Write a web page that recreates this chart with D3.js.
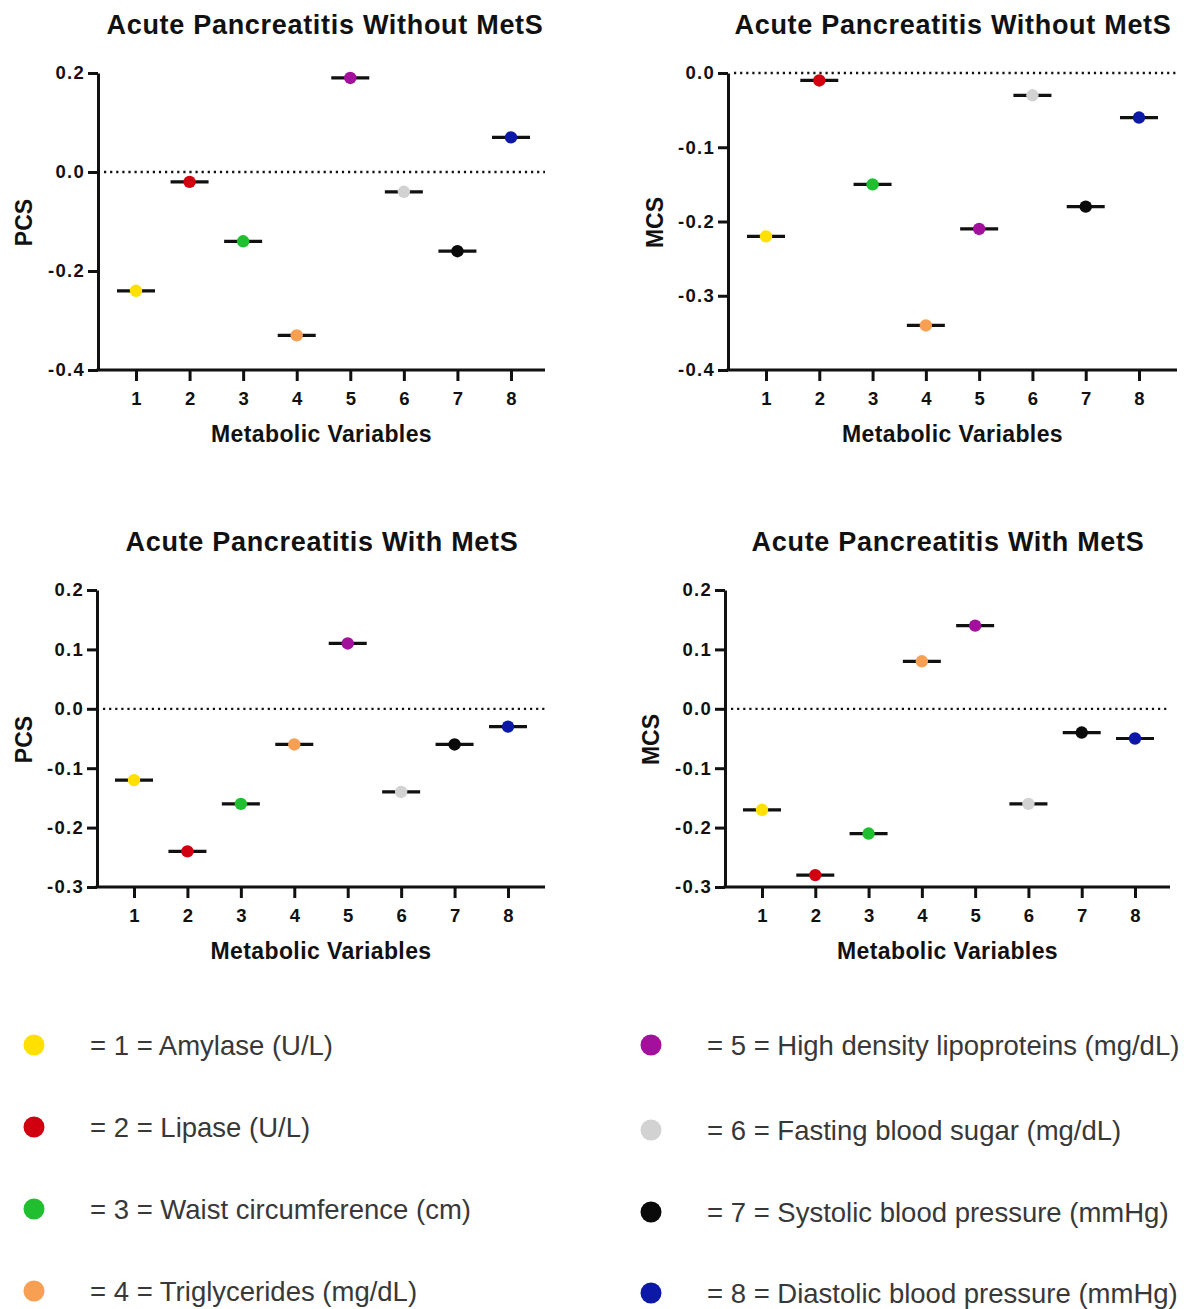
<!DOCTYPE html>
<html>
<head>
<meta charset="utf-8">
<script src="https://cdn.jsdelivr.net/npm/d3@7"></script>
<style>
  html, body { margin: 0; padding: 0; background: #fff; }
  svg { display: block; }
  text { font-family: Arial, "Liberation Sans", Helvetica, sans-serif; }
</style>
</head>
<body>
<svg id="chart" width="1184" height="1309"></svg>
<script>
// ---------------- data ----------------
const categories = [1, 2, 3, 4, 5, 6, 7, 8];
const variableNames = [
  "Amylase (U/L)",
  "Lipase (U/L)",
  "Waist circumference (cm)",
  "Triglycerides (mg/dL)",
  "High density lipoproteins (mg/dL)",
  "Fasting blood sugar (mg/dL)",
  "Systolic blood pressure (mmHg)",
  "Diastolic blood pressure (mmHg)"
];
const variableColors = ["#ffe000", "#d00010", "#1fbf2f", "#f7a053", "#a3119c", "#d2d2d2", "#0a0a0a", "#0b19a6"];

const pcsWithoutMetS = [-0.24, -0.02, -0.14, -0.33, 0.19, -0.04, -0.16, 0.07];
const mcsWithoutMetS = [-0.22, -0.01, -0.15, -0.34, -0.21, -0.03, -0.18, -0.06];
const pcsWithMetS    = [-0.12, -0.24, -0.16, -0.06, 0.11, -0.14, -0.06, -0.03];
const mcsWithMetS    = [-0.17, -0.28, -0.21, 0.08, 0.14, -0.16, -0.04, -0.05];

const ticksPcsWithout = [-0.4, -0.2, 0.0, 0.2];
const ticksMcsWithout = [-0.4, -0.3, -0.2, -0.1, 0.0];
const ticksWith       = [-0.3, -0.2, -0.1, 0.0, 0.1, 0.2];

const titleWithout = "Acute Pancreatitis Without MetS";
const titleWith = "Acute Pancreatitis With MetS";
const xAxisTitle = "Metabolic Variables";

// ---------------- layout ----------------
const panels = [
  { title: titleWithout, yLabel: "PCS", values: pcsWithoutMetS, ticks: ticksPcsWithout,
    axisX: 98, endX: 545, x1: 136, x8: 511, yTop: 73, yBot: 370, titleX: 325, titleY: 34, yLabelX: 32 },
  { title: titleWithout, yLabel: "MCS", values: mcsWithoutMetS, ticks: ticksMcsWithout,
    axisX: 728, endX: 1177, x1: 766, x8: 1139, yTop: 73, yBot: 370, titleX: 953, titleY: 34, yLabelX: 663 },
  { title: titleWith, yLabel: "PCS", values: pcsWithMetS, ticks: ticksWith,
    axisX: 97, endX: 545, x1: 134, x8: 508, yTop: 590, yBot: 887, titleX: 322, titleY: 551, yLabelX: 32 },
  { title: titleWith, yLabel: "MCS", values: mcsWithMetS, ticks: ticksWith,
    axisX: 725, endX: 1170, x1: 762, x8: 1135, yTop: 590, yBot: 887, titleX: 948, titleY: 551, yLabelX: 659 }
];

const svg = d3.select("#chart");
const fmt = d => d.toFixed(1);
const FONT = "Arial, 'Liberation Sans', sans-serif";

panels.forEach(p => {
  const g = svg.append("g");
  const x = d3.scaleLinear().domain([1, 8]).range([p.x1, p.x8]);
  const y = d3.scaleLinear().domain(d3.extent(p.ticks)).range([p.yBot, p.yTop]);

  // title
  g.append("text")
    .attr("x", p.titleX).attr("y", p.titleY)
    .attr("text-anchor", "middle")
    .attr("font-size", 27).attr("font-weight", "bold")
    .attr("letter-spacing", 0.7)
    .attr("fill", "#111")
    .text(p.title);

  // zero dotted line
  g.append("line")
    .attr("x1", p.axisX + 6).attr("x2", p.endX)
    .attr("y1", y(0)).attr("y2", y(0))
    .attr("stroke", "#111").attr("stroke-width", 2.3)
    .attr("stroke-dasharray", "2.2,3.9");

  // y axis
  const ya = g.append("g")
    .attr("transform", `translate(${p.axisX},0)`)
    .call(d3.axisLeft(y).tickValues(p.ticks).tickFormat(fmt).tickSize(10).tickSizeOuter(0).tickPadding(3));
  ya.select(".domain").attr("stroke", "#111").attr("stroke-width", 3);
  ya.selectAll(".tick line").attr("stroke", "#111").attr("stroke-width", 3);
  ya.selectAll(".tick text").attr("font-size", 18.5).attr("font-weight", "bold").attr("fill", "#111")
    .attr("letter-spacing", 1.3).attr("font-family", FONT);

  // x axis
  const xa = g.append("g")
    .attr("transform", `translate(0,${p.yBot})`)
    .call(d3.axisBottom(x).tickValues(categories).tickFormat(d3.format("d")).tickSize(11).tickSizeOuter(0).tickPadding(11));
  xa.select(".domain").remove();
  xa.selectAll(".tick line").attr("stroke", "#111").attr("stroke-width", 3);
  xa.selectAll(".tick text").attr("font-size", 18.5).attr("font-weight", "bold").attr("fill", "#111")
    .attr("font-family", FONT);
  g.append("line")
    .attr("x1", p.axisX - 1.5).attr("x2", p.endX)
    .attr("y1", p.yBot).attr("y2", p.yBot)
    .attr("stroke", "#111").attr("stroke-width", 3);

  // x axis title
  g.append("text")
    .attr("x", (p.axisX + p.endX) / 2).attr("y", p.yBot + 72)
    .attr("text-anchor", "middle")
    .attr("font-size", 23).attr("font-weight", "bold").attr("letter-spacing", 0.4)
    .attr("fill", "#111")
    .text(xAxisTitle);

  // y axis title
  g.append("text")
    .attr("transform", `translate(${p.yLabelX},${(p.yTop + p.yBot) / 2 + 1}) rotate(-90)`)
    .attr("text-anchor", "middle")
    .attr("font-size", 23).attr("font-weight", "bold")
    .attr("fill", "#111")
    .text(p.yLabel);

  // mean lines
  g.selectAll("line.mean").data(p.values).enter().append("line")
    .attr("class", "mean")
    .attr("x1", (d, i) => x(categories[i]) - 19)
    .attr("x2", (d, i) => x(categories[i]) + 19)
    .attr("y1", d => y(d)).attr("y2", d => y(d))
    .attr("stroke", "#111").attr("stroke-width", 3.2);

  // points
  g.selectAll("circle.pt").data(p.values).enter().append("circle")
    .attr("class", "pt")
    .attr("cx", (d, i) => x(categories[i]))
    .attr("cy", d => y(d))
    .attr("r", 6.2)
    .attr("fill", (d, i) => variableColors[i]);
});

// ---------------- legend ----------------
const legendCols = [
  { cx: 34, tx: 90, ys: [1045, 1127, 1209, 1291], idx: [0, 1, 2, 3] },
  { cx: 651, tx: 707, ys: [1045, 1130, 1212, 1293], idx: [4, 5, 6, 7] }
];
legendCols.forEach(col => {
  col.idx.forEach((k, j) => {
    svg.append("circle")
      .attr("cx", col.cx).attr("cy", col.ys[j]).attr("r", 10.5)
      .attr("fill", variableColors[k]);
    svg.append("text")
      .attr("x", col.tx).attr("y", col.ys[j])
      .attr("dy", "0.36em")
      .attr("font-size", 27.5)
      .attr("fill", "#383838")
      .text(`= ${categories[k]} = ${variableNames[k]}`);
  });
});
</script>
</body>
</html>
